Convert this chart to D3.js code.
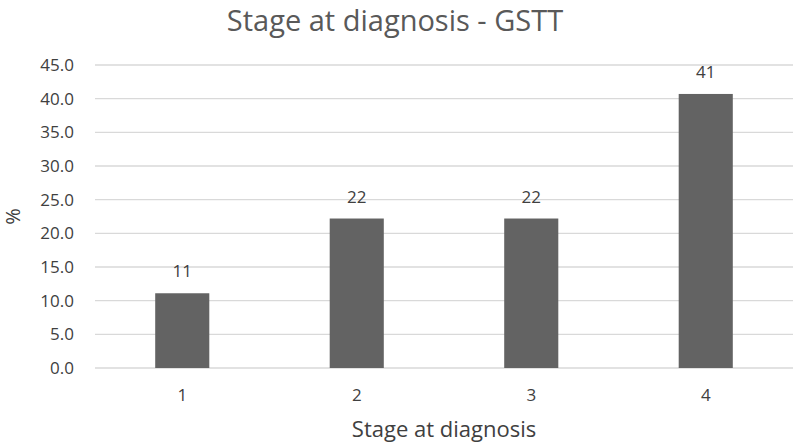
<!DOCTYPE html>
<html lang="en">
<head>
    <meta charset="UTF-8">
    <title>Stage at diagnosis - GSTT</title>
    <script src="https://cdnjs.cloudflare.com/ajax/libs/d3/7.8.5/d3.min.js"></script>
    <style>
        body { margin: 0; background: #fff; }
        svg { display: block; font-family: "Open Sans", sans-serif; }
    </style>
</head>
<body>
    <div id="chart"></div>
    <script>
        // Chart data
        const stages = ["1", "2", "3", "4"];
        const percents = [11.1, 22.2, 22.2, 40.7];
        const yTicks = [0, 5, 10, 15, 20, 25, 30, 35, 40, 45];

        const width = 800, height = 445;
        const margin = { top: 65, right: 7, bottom: 77, left: 95 };

        const svg = d3.select("#chart").append("svg")
            .attr("width", width)
            .attr("height", height);

        const x = d3.scaleBand()
            .domain(stages)
            .range([margin.left, width - margin.right])
            .paddingInner(0.69)
            .paddingOuter(0.345);

        const y = d3.scaleLinear()
            .domain([0, 45])
            .range([height - margin.bottom, margin.top]);

        // Gridlines
        svg.append("g")
            .selectAll("line")
            .data(yTicks)
            .join("line")
            .attr("x1", margin.left)
            .attr("x2", width - margin.right)
            .attr("y1", d => y(d))
            .attr("y2", d => y(d))
            .attr("stroke", "#d9d9d9")
            .attr("stroke-width", 1.3);

        // Y axis labels
        const yAxis = svg.append("g")
            .attr("transform", `translate(${margin.left - 21},0)`)
            .call(d3.axisLeft(y).tickValues(yTicks).tickFormat(d3.format(".1f")).tickSize(0).tickPadding(0));
        yAxis.select(".domain").remove();
        yAxis.selectAll("text")
            .attr("fill", "#404040")
            .style("font-size", "17px")
            .style("font-family", "'Open Sans', sans-serif");

        // X axis labels
        const xAxis = svg.append("g")
            .attr("transform", `translate(0,${height - margin.bottom})`)
            .call(d3.axisBottom(x).tickSize(0).tickPadding(21));
        xAxis.select(".domain").remove();
        xAxis.selectAll("text")
            .attr("fill", "#404040")
            .style("font-size", "17px")
            .style("font-family", "'Open Sans', sans-serif");

        // Bars
        svg.append("g")
            .selectAll("rect")
            .data(percents)
            .join("rect")
            .attr("x", (d, i) => x(stages[i]))
            .attr("y", d => y(d))
            .attr("width", x.bandwidth())
            .attr("height", d => y(0) - y(d))
            .attr("fill", "#636363");

        // Data labels
        svg.append("g")
            .selectAll("text")
            .data(percents)
            .join("text")
            .attr("x", (d, i) => x(stages[i]) + x.bandwidth() / 2)
            .attr("y", d => y(d) - 16)
            .attr("text-anchor", "middle")
            .attr("fill", "#404040")
            .style("font-size", "17px")
            .text(d => d3.format(".0f")(d));

        // Title
        svg.append("text")
            .attr("x", 395)
            .attr("y", 31)
            .attr("text-anchor", "middle")
            .attr("fill", "#595959")
            .style("font-size", "29px")
            .text("Stage at diagnosis - GSTT");

        // Axis titles
        svg.append("text")
            .attr("x", 444)
            .attr("y", 437)
            .attr("text-anchor", "middle")
            .attr("fill", "#404040")
            .style("font-size", "22px")
            .text("Stage at diagnosis");

        svg.append("text")
            .attr("transform", `translate(20,${(margin.top + height - margin.bottom) / 2}) rotate(-90)`)
            .attr("text-anchor", "middle")
            .attr("fill", "#404040")
            .style("font-size", "20px")
            .text("%");
    </script>
</body>
</html>
